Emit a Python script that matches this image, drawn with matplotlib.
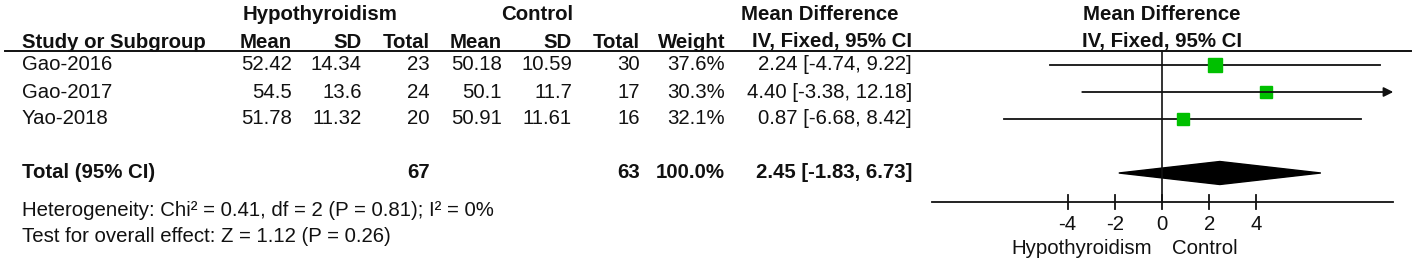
import numpy as np
import matplotlib
matplotlib.use("Agg")
import matplotlib.pyplot as plt
from matplotlib.patches import Polygon

plt.rcParams['font.family'] = ['Liberation Sans', 'DejaVu Sans']

# Donnees du forest plot
studies = ["Gao-2016", "Gao-2017", "Yao-2018"]
hypo_mean = ["52.42", "54.5", "51.78"]
hypo_sd = ["14.34", "13.6", "11.32"]
hypo_n = [23, 24, 20]
ctrl_mean = ["50.18", "50.1", "50.91"]
ctrl_sd = ["10.59", "11.7", "11.61"]
ctrl_n = [30, 17, 16]
weights = [37.6, 30.3, 32.1]
md = [2.24, 4.40, 0.87]
ci_lo = [-4.74, -3.38, -6.68]
ci_hi = [9.22, 12.18, 8.42]
total_hypo = 67
total_ctrl = 63
total_md, total_lo, total_hi = 2.45, -1.83, 6.73
ticks = [-4, -2, 0, 2, 4]
heterogeneity = "Heterogeneity: Chi² = 0.41, df = 2 (P = 0.81); I² = 0%"
overall = "Test for overall effect: Z = 1.12 (P = 0.26)"

W, H = 1417, 265
fig = plt.figure(figsize=(W / 100, H / 100), dpi=100)
ax0 = fig.add_axes([0, 0, 1, 1])
ax0.set_xlim(0, W)
ax0.set_ylim(H, 0)
ax0.axis("off")

# zone du graphique : -10..10 en unites de difference moyenne
ax1 = fig.add_axes([926 / W, 0, 472 / W, 1])
ax1.set_xlim(-10, 10)
ax1.set_ylim(H, 0)
ax1.axis("off")

fs = 14.7
row_y = 65 + 27 * np.arange(len(studies))
total_y = 173

def txt(x, y, s, ha="right", bold=False):
    ax0.text(x, y, s, ha=ha, va="center", fontsize=fs,
             fontweight="bold" if bold else "normal", color="#111111")

# En-tetes
txt(320, 14, "Hypothyroidism", ha="center", bold=True)
txt(537, 14, "Control", ha="center", bold=True)
txt(820, 14, "Mean Difference", ha="center", bold=True)
txt(1162, 14, "Mean Difference", ha="center", bold=True)
txt(22, 42, "Study or Subgroup", ha="left", bold=True)
cols = [292, 362, 430, 502, 572, 640, 725, 912]
heads = ["Mean", "SD", "Total", "Mean", "SD", "Total", "Weight", "IV, Fixed, 95% CI"]
for x, h in zip(cols, heads):
    txt(x, 42, h, bold=True)
txt(1162, 42, "IV, Fixed, 95% CI", ha="center", bold=True)
ax0.plot([5, 1411], [51, 51], color="#111111", lw=1.4)

# Lignes des etudes
for i, y in enumerate(row_y):
    txt(22, y, studies[i], ha="left")
    vals = [hypo_mean[i], hypo_sd[i], str(hypo_n[i]), ctrl_mean[i], ctrl_sd[i],
            str(ctrl_n[i]), f"{weights[i]:.1f}%",
            f"{md[i]:.2f} [{ci_lo[i]:.2f}, {ci_hi[i]:.2f}]"]
    for x, v in zip(cols, vals):
        txt(x, y, v)

# Total
txt(22, total_y, "Total (95% CI)", ha="left", bold=True)
txt(430, total_y, str(total_hypo), bold=True)
txt(640, total_y, str(total_ctrl), bold=True)
txt(725, total_y, "100.0%", bold=True)
txt(912, total_y, f"{total_md:.2f} [{total_lo:.2f}, {total_hi:.2f}]", bold=True)
txt(22, 210, heterogeneity, ha="left")
txt(22, 237, overall, ha="left")

# Forest plot
ax1.plot([0, 0], [51, 202], color="#111111", lw=1.2)
for i, y in enumerate(row_y):
    lo, hi = ci_lo[i], ci_hi[i]
    if hi > 9.8:
        ax1.annotate("", xy=(9.8, y), xytext=(lo, y),
                     arrowprops=dict(arrowstyle="-|>", color="#111111", lw=1.3,
                                     mutation_scale=14, shrinkA=0, shrinkB=0))
    else:
        ax1.plot([lo, hi], [y, y], color="#111111", lw=1.3)
    side = 14 * np.sqrt(weights[i] / max(weights)) * 0.72
    ax1.plot(md[i], y, marker="s", ms=side, color="#00c000", mec="#00c000")

ax1.add_patch(Polygon([(total_lo, total_y), (total_md, total_y - 11.5),
                       (total_hi, total_y), (total_md, total_y + 11.5)],
                      closed=True, color="black"))

ax1.plot([-9.75, 9.8], [202, 202], color="#111111", lw=1.3)
for t in ticks:
    ax1.plot([t, t], [195, 209], color="#111111", lw=1.3)
    ax1.text(t, 224, str(t), ha="center", va="center", fontsize=fs, color="#111111")
ax1.text(-0.42, 249, "Hypothyroidism", ha="right", va="center", fontsize=fs, color="#111111")
ax1.text(0.42, 249, "Control", ha="left", va="center", fontsize=fs, color="#111111")

fig.savefig("out.png", dpi=100)
